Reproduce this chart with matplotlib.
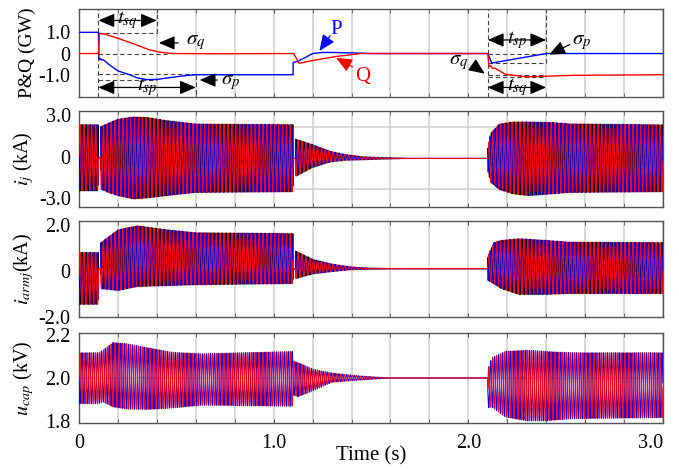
import numpy as np
import matplotlib
matplotlib.use("Agg")
import matplotlib.pyplot as plt
from matplotlib.ticker import MultipleLocator

plt.rcParams['font.family'] = ['Liberation Serif', 'DejaVu Serif']
plt.rcParams['mathtext.fontset'] = 'stix'

# ---- data ----
f0 = 50.0  # grid frequency (Hz)

# active / reactive power (GW)
P_t = [0, 0.1, 0.102, 0.106, 0.11, 0.115, 0.12, 0.13, 0.16, 0.2, 0.26, 0.3, 0.35, 0.4,
       0.48, 0.55, 0.6, 1.1, 1.1, 1.12, 1.16, 1.2, 1.25, 1.3, 1.4, 1.5, 2.1, 2.12, 2.2,
       2.3, 2.4, 3.0]
P_v = [1.0, 1.0, -0.22, -0.28, -0.24, -0.3, -0.28, -0.33, -0.56, -0.82, -1.0, -1.15,
       -1.23, -1.22, -1.12, -1.04, -1.0, -1.0, -0.42, -0.38, -0.2, 0.0, 0.05, 0.05, 0.03,
       0.0, 0.0, -0.45, -0.32, -0.16, 0.0, 0.0]
Q_t = [0, 0.1, 0.105, 0.13, 0.19, 0.28, 0.36, 0.41, 0.48, 0.7, 1.1, 1.103, 1.13, 1.2,
       1.32, 1.45, 2.1, 2.105, 2.11, 2.115, 2.125, 2.135, 2.19, 2.3, 2.4, 2.53, 3.0]
Q_v = [0, 0, 0.95, 0.92, 0.75, 0.46, 0.18, 0.07, 0.0, -0.01, 0.0, 0.0, -0.46, -0.33,
       -0.14, 0.0, 0.0, -0.55, -0.62, -0.58, -0.7, -0.68, -0.98, -1.1, -1.07, -1.03, -1.0]

# envelopes of the oscillating quantities (upper / lower)
ij_t = [0, 0.1, 0.1, 0.112, 0.112, 0.15, 0.2, 0.28, 0.35, 0.45, 0.6, 1.1, 1.1, 1.112,
        1.112, 1.2, 1.29, 1.37, 1.46, 1.55, 1.7, 2.1, 2.1, 2.115, 2.16, 2.23, 2.31, 2.43,
        2.52, 3.0]
ij_hi = [2.3, 2.3, -0.1, -0.1, 2.17, 2.4, 2.7, 2.86, 2.82, 2.6, 2.35, 2.3, -0.14, -0.14,
         1.26, 0.86, 0.38, 0.14, -0.02, -0.07, -0.14, -0.14, 0.7, 1.7, 2.35, 2.5, 2.5,
         2.46, 2.36, 2.29]
ij_lo = [-2.48, -2.48, -0.1, -0.1, -2.36, -2.6, -2.83, -3.07, -3.0, -2.83, -2.6, -2.55,
         -0.14, -0.14, -1.45, -0.8, -0.4, -0.27, -0.24, -0.19, -0.14, -0.14, -1.05, -1.86,
         -2.4, -2.7, -2.83, -2.7, -2.6, -2.55]

ia_t = [0, 0.1, 0.1, 0.112, 0.112, 0.2, 0.3, 0.45, 0.6, 1.1, 1.1, 1.112, 1.112, 1.2, 1.3,
        1.39, 1.5, 1.7, 2.1, 2.1, 2.13, 2.17, 2.26, 2.4, 2.52, 3.0]
ia_hi = [0.8, 0.8, 0.1, 0.1, 1.23, 1.79, 1.96, 1.79, 1.66, 1.62, 0.1, 0.1, 0.87, 0.51,
         0.3, 0.18, 0.12, 0.1, 0.1, 0.65, 1.23, 1.33, 1.4, 1.33, 1.25, 1.23]
ia_lo = [-1.45, -1.45, 0.1, 0.1, -0.77, -0.85, -0.68, -0.64, -0.6, -0.55, 0.1, 0.1,
         -0.34, -0.13, -0.03, 0.05, 0.08, 0.1, 0.1, -0.41, -0.55, -0.77, -1.02, -1.02,
         -0.98, -0.98]

uc_t = [0, 0.1, 0.124, 0.175, 0.245, 0.36, 0.48, 0.63, 1.1, 1.1, 1.125, 1.2, 1.3, 1.44,
        1.6, 2.1, 2.1, 2.12, 2.19, 2.3, 2.4, 2.53, 3.0]
uc_hi = [2.118, 2.118, 2.13, 2.166, 2.16, 2.14, 2.12, 2.113, 2.124, 2.08, 2.072, 2.042,
         2.023, 2.01, 2.0, 2.0, 2.04, 2.094, 2.124, 2.13, 2.124, 2.118, 2.118]
uc_lo = [1.88, 1.88, 1.888, 1.865, 1.855, 1.853, 1.86, 1.873, 1.868, 1.92, 1.912, 1.94,
         1.98, 1.99, 2.0, 2.0, 1.86, 1.865, 1.818, 1.80, 1.80, 1.81, 1.815]

x_ticks = [0, 1.0, 2.0, 3.0]
x_ticklabels = ['0', '1.0', '2.0', '3.0']

# ---- build waveforms ----
t = np.arange(0, 3.0, 1 / 4000.0)
w = 2 * np.pi * f0 * t


def wave(kt, hi, lo, ph):
    h = np.interp(t, kt, hi)
    l = np.interp(t, kt, lo)
    return (h + l) / 2 + (h - l) / 2 * np.sin(w + ph)


fig = plt.figure(figsize=(6.79, 4.70), dpi=100)
L, W = 79 / 679, 584 / 679
ax1 = fig.add_axes([L, 1 - 97 / 470, W, 88 / 470])
ax2 = fig.add_axes([L, 1 - 207 / 470, W, 96 / 470])
ax3 = fig.add_axes([L, 1 - 317 / 470, W, 96 / 470])
ax4 = fig.add_axes([L, 1 - 423 / 470, W, 90 / 470])
axes = [ax1, ax2, ax3, ax4]

for ax in axes:
    ax.set_xlim(0, 3.0)
    ax.xaxis.set_major_locator(MultipleLocator(1.0))
    ax.xaxis.set_minor_locator(MultipleLocator(0.2))
    ax.grid(axis='x', which='both', color='#cfcfcf', lw=1.1, zorder=0)
    ax.tick_params(axis='x', which='both', direction='in', top=True, length=3,
                   color='#555555', labelsize=14.5)
    ax.tick_params(axis='y', length=0, labelsize=14.5, pad=6)
    for s in ax.spines.values():
        s.set_color('#555555')
        s.set_linewidth(1.0)
    if ax is not ax4:
        ax.set_xticklabels([])

# panel 1: P & Q
dash = dict(color='#444444', lw=0.8, ls=(0, (4, 2.5)), zorder=2)
ax1.plot([0.1, 0.1], [-2.05, 2.1], **dash)
ax1.plot([0.4, 0.4], [0.95, 2.1], **dash)
ax1.plot([0.1, 0.4], [0.98, 0.98], **dash)
ax1.plot([0.1, 0.45], [0, 0], **dash)
ax1.plot([0.1, 0.6], [-0.98, -0.98], **dash)
ax1.plot([0.1, 0.4], [-1.24, -1.24], **dash)
ax1.plot([0.6, 0.6], [-1.0, -2.05], **dash)
ax1.plot([2.1, 2.1], [-2.05, 2.1], **dash)
ax1.plot([2.4, 2.4], [-0.47, 2.1], **dash)
ax1.plot([2.1, 2.4], [0, 0], **dash)
ax1.plot([2.1, 2.4], [-0.47, -0.47], **dash)
ax1.plot([2.1, 2.4], [-1.0, -1.0], **dash)
ax1.plot([2.1, 2.4], [-1.12, -1.12], **dash)

ax1.plot(P_t, P_v, color='#0000ff', lw=1.0, zorder=3)
ax1.plot(Q_t, Q_v, color='#ff0000', lw=1.0, zorder=3)
ax1.set_ylim(-2.05, 2.1)
ax1.set_yticks([1.0, 0, -1.0])
ax1.set_yticklabels(['1.0', '0', '-1.0'])

arr2 = dict(arrowstyle='<|-|>,head_length=0.7,head_width=0.3', color='k', lw=0.9,
            shrinkA=0, shrinkB=0, mutation_scale=14)
arr1 = dict(arrowstyle='-|>,head_length=0.7,head_width=0.3', color='k', lw=0.9,
            shrinkA=0, shrinkB=0, mutation_scale=14)
fs = 15
ax1.annotate('', xy=(0.1, 1.56), xytext=(0.4, 1.56), arrowprops=arr2)
ax1.text(0.25, 1.56, r'$t_{sq}$', fontsize=fs, ha='center', va='center')
ax1.annotate('', xy=(0.1, -1.6), xytext=(0.6, -1.6), arrowprops=arr2)
ax1.text(0.35, -1.6, r'$t_{sp}$', fontsize=fs, ha='center', va='center')
ax1.annotate('', xy=(0.41, 0.5), xytext=(0.51, 0.5), arrowprops=arr1)
ax1.text(0.55, 0.5, r'$\sigma_q$', fontsize=fs, ha='left', va='center')
ax1.annotate('', xy=(0.62, -1.25), xytext=(0.71, -1.25), arrowprops=arr1)
ax1.text(0.73, -1.35, r'$\sigma_p$', fontsize=fs, ha='left', va='center')

ax1.annotate('', xy=(2.1, 0.64), xytext=(2.4, 0.64), arrowprops=arr2)
ax1.text(2.25, 0.64, r'$t_{sp}$', fontsize=fs, ha='center', va='center')
ax1.annotate('', xy=(2.1, -1.6), xytext=(2.4, -1.6), arrowprops=arr2)
ax1.text(2.25, -1.6, r'$t_{sq}$', fontsize=fs, ha='center', va='center')
ax1.annotate('', xy=(2.415, -0.05), xytext=(2.52, 0.42), arrowprops=arr1)
ax1.text(2.53, 0.5, r'$\sigma_p$', fontsize=fs, ha='left', va='center')
ax1.annotate('', xy=(2.085, -0.95), xytext=(2.03, -0.6), arrowprops=arr1)
ax1.text(2.0, -0.42, r'$\sigma_q$', fontsize=fs, ha='right', va='center')

ax1.annotate('', xy=(1.235, 0.12), xytext=(1.29, 0.84),
             arrowprops=dict(arrowstyle='-|>,head_length=0.7,head_width=0.3', color='#0000ff',
                             lw=0.9, shrinkA=0, shrinkB=0, mutation_scale=14))
ax1.text(1.32, 1.15, 'P', color='#0000ff', fontsize=15, ha='center', va='center')
ax1.annotate('', xy=(1.32, -0.2), xytext=(1.405, -0.63),
             arrowprops=dict(arrowstyle='-|>,head_length=0.7,head_width=0.3', color='#ff0000',
                             lw=0.9, shrinkA=0, shrinkB=0, mutation_scale=14))
ax1.text(1.456, -1.1, 'Q', color='#ff0000', fontsize=15, ha='center', va='center')
ax1.set_ylabel('P&Q (GW)', fontsize=14)

# panel 2: ij
ax2.axhline(2.15, color='#cfcfcf', lw=1.1, zorder=0)
ax2.axhline(-2.35, color='#cfcfcf', lw=1.1, zorder=0)
for ph, c in [(2 * np.pi / 3, 'k'), (-2 * np.pi / 3, '#0000ff'), (0, '#ff0000')]:
    ax2.plot(t, wave(ij_t, ij_hi, ij_lo, ph), color=c, lw=0.8, zorder=3)
ax2.set_ylim(-3.65, 3.29)
ax2.set_yticks([3.0, 0, -3.0])
ax2.set_yticklabels(['3.0', '0', '-3.0'])
ax2.set_ylabel(r'$i_j$ (kA)', fontsize=14.5)

# panel 3: iarmj
for ph, c in [(2 * np.pi / 3, 'k'), (-2 * np.pi / 3, '#0000ff'), (0, '#ff0000')]:
    ax3.plot(t, wave(ia_t, ia_hi, ia_lo, ph), color=c, lw=0.8, zorder=3)
ax3.set_ylim(-2.0, 2.17)
ax3.set_yticks([2.0, 0, -2.0])
ax3.set_yticklabels(['2.0', '0', '-2.0'])
ax3.set_ylabel(r'$i_{armj}$(kA)', fontsize=14.5)

# panel 4: ucap
ax4.axhline(2.0, color='#cfcfcf', lw=1.1, zorder=0)
ax4.plot(t, wave(uc_t, uc_hi, uc_lo, np.pi), color='#0000ff', lw=0.8, zorder=3)
ax4.plot(t, wave(uc_t, uc_hi, uc_lo, 0), color='#ff0000', lw=0.8, zorder=3)
ax4.set_ylim(1.79, 2.21)
ax4.set_yticks([2.2, 2.0, 1.8])
ax4.set_yticklabels(['2.2', '2.0', '1.8'])
ax4.set_ylabel(r'$u_{cap}$ (kV)', fontsize=14.5)
ax4.set_xticks(x_ticks)
ax4.set_xticklabels(x_ticklabels)
ax4.tick_params(axis='x', pad=8)
ax4.get_xticklabels()[-1].set_ha('right')
ax4.set_xlabel('Time (s)', fontsize=15)
ax4.xaxis.set_label_coords(0.5, -0.255)

for ax in axes:
    ax.yaxis.set_label_coords(-0.074, 0.5)

fig.savefig('out.png', dpi=100)
